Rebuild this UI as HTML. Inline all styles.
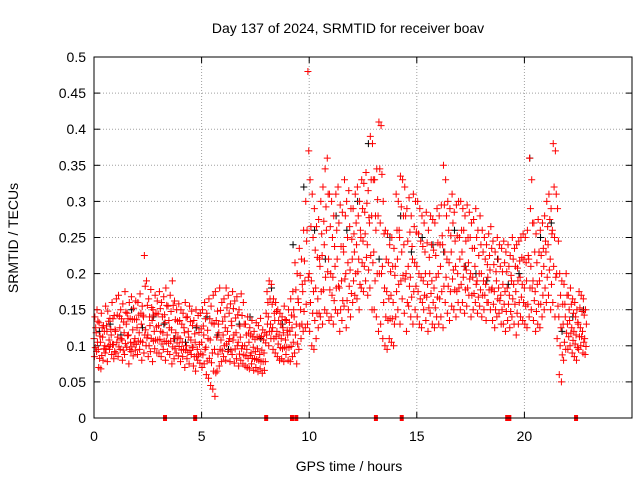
<!DOCTYPE html>
<html><head><meta charset="utf-8"><style>
body{margin:0;background:#fff;}
svg{display:block;font-family:"Liberation Sans",sans-serif;}
</style></head><body>
<svg id="chart" width="640" height="480" viewBox="0 0 640 480" xmlns="http://www.w3.org/2000/svg">
<rect width="640" height="480" fill="#fff"/>
<text x="348" y="33" font-size="14" text-anchor="middle">Day 137 of 2024, SRMTID for receiver boav</text>
<text transform="translate(18,238) rotate(-90)" font-size="14" text-anchor="middle">SRMTID / TECUs</text>
<text x="349" y="471" font-size="14" text-anchor="middle">GPS time / hours</text>
<g id="grid"></g><g id="axes"></g><g id="black"></g><g id="red"></g><g id="marks"></g>
<rect x="94" y="57" width="538" height="361" fill="none" stroke="#000" stroke-width="1"/>
</svg>
<script>
const yTicks=[0,0.05,0.1,0.15,0.2,0.25,0.3,0.35,0.4,0.45,0.5];
const yTickLabels=["0","0.05","0.1","0.15","0.2","0.25","0.3","0.35","0.4","0.45","0.5"];
const xTicks=[0,5,10,15,20];
const xTickLabels=["0","5","10","15","20"];
const redStep=0.1;
const redHi=[140,150,132,145,128,155,148,138,160,142,165,170,150,158,175,145,160,168,152,162,160,172,155,225,190,165,178,150,170,162,175,160,168,180,155,170,190,162,150,158,150,145,160,140,155,148,135,150,142,145,150,160,145,165,155,170,175,148,180,160,165,180,170,158,175,162,168,150,172,160,130,140,125,135,120,132,128,138,122,118,175,190,185,165,160,150,145,140,155,135,150,165,175,215,200,235,220,260,300,480,330,310,290,265,275,300,320,345,360,310,300,280,310,320,295,285,330,300,315,290,290,310,320,300,330,325,340,315,390,380,330,345,410,405,300,260,255,240,250,235,310,300,335,330,320,290,305,280,310,300,300,290,280,270,285,260,280,275,270,290,280,295,350,330,300,290,310,285,295,300,300,290,280,295,285,270,275,290,260,280,260,250,240,255,265,245,230,250,240,235,245,230,240,225,250,235,240,245,250,255,250,260,360,330,270,255,275,260,270,280,300,310,290,380,370,290,200,190,185,200,170,180,165,160,150,175,170,165,150];
const redMid=[110,118,95,105,112,100,120,108,115,102,120,112,125,108,118,130,115,105,122,110,125,118,130,140,122,115,128,135,120,126,128,120,118,132,115,125,122,110,118,112,110,105,118,100,112,108,98,105,95,102,105,115,98,110,108,90,95,112,118,108,115,125,120,110,128,115,118,105,112,100,100,95,105,90,98,92,96,88,94,90,145,140,130,125,135,120,115,110,118,108,115,120,125,140,130,160,150,175,190,260,200,190,175,180,165,210,225,240,260,220,200,195,210,220,180,190,230,200,215,205,220,230,240,220,250,245,255,240,270,280,230,260,280,270,210,180,175,165,170,160,210,220,250,230,240,200,210,195,220,215,210,200,195,190,200,185,200,190,180,195,200,210,240,230,220,215,230,205,210,200,220,230,210,205,215,200,195,210,190,200,200,190,185,195,205,180,175,190,180,170,185,175,180,170,190,185,175,190,195,185,180,190,220,210,190,175,185,190,200,210,230,240,220,260,250,200,140,125,130,140,130,135,125,120,115,130,125,120,110];
const redLo=[85,92,70,68,80,90,78,95,88,82,90,85,95,80,88,98,75,92,86,94,88,95,80,90,100,85,92,78,96,90,90,85,95,80,92,88,75,82,90,86,78,85,70,82,75,88,72,65,80,76,70,75,60,55,45,40,30,65,72,78,85,80,92,78,88,76,82,72,80,75,72,70,68,75,66,70,64,68,62,66,115,100,110,95,90,85,80,82,78,88,80,78,85,90,75,95,110,120,125,130,120,100,95,110,125,140,130,150,145,135,140,130,150,145,120,135,155,125,150,140,160,170,165,150,180,175,190,170,180,150,150,140,120,130,110,100,95,110,105,100,140,150,130,165,145,120,155,140,130,150,140,130,125,150,135,120,145,130,125,140,130,140,125,160,145,135,155,150,140,160,150,160,145,155,170,140,150,160,145,155,140,150,135,160,150,135,125,140,145,130,130,120,135,125,140,130,115,130,140,135,130,125,140,150,135,120,130,125,140,150,160,170,150,160,140,110,60,50,80,95,95,100,90,85,80,95,100,90,88];
const blackStep=0.5;
const blackVals=[120,130,115,150,125,140,130,110,105,125,140,115,95,130,140,110,180,130,240,320,260,220,280,260,300,380,220,250,280,230,250,240,230,260,210,200,190,220,185,200,360,250,270,120,140,150];
const markHours=[3.3,4.7,8.0,9.2,9.4,13.1,14.3,19.2,19.3,22.4];

const L=94,R=632,T=57,B=418,XMAX=25,YMAX=0.5;
const xs=v=>L+v/XMAX*(R-L), ys=v=>B-v/YMAX*(B-T);
const NS="http://www.w3.org/2000/svg";
function mk(tag,attrs,parent){const e=document.createElementNS(NS,tag);for(const k in attrs)e.setAttribute(k,attrs[k]);document.getElementById(parent).appendChild(e);return e;}
yTicks.forEach((v,i)=>{
 if(i>0&&i<yTicks.length-1){const g=mk('line',{x1:L,x2:R,y1:ys(v),y2:ys(v),stroke:'#a0a0a0','stroke-dasharray':'1,2'},'grid');
 
 }
 mk('line',{x1:L,x2:L+6,y1:ys(v),y2:ys(v),stroke:'#000'},'axes');
 mk('line',{x1:R,x2:R-6,y1:ys(v),y2:ys(v),stroke:'#000'},'axes');
 const t=mk('text',{x:L-8,y:ys(v)+5,'font-size':14,'text-anchor':'end'},'axes');t.textContent=yTickLabels[i];
 
 
});
xTicks.forEach((v,i)=>{
 if(i>0){const g=mk('line',{x1:xs(v),x2:xs(v),y1:T,y2:B,stroke:'#a0a0a0','stroke-dasharray':'1,2'},'grid');
 
 }
 mk('line',{x1:xs(v),x2:xs(v),y1:B,y2:B-6,stroke:'#000'},'axes');
 mk('line',{x1:xs(v),x2:xs(v),y1:T,y2:T+6,stroke:'#000'},'axes');
 const t=mk('text',{x:xs(v),y:B+23,'font-size':14,'text-anchor':'middle'},'axes');t.textContent=xTickLabels[i];
 
 
});
function plus(x,y,col,parent){const p=mk('path',{d:`M${x-3.5} ${y}h7M${x} ${y-3.5}v7`,stroke:col,'stroke-width':1,fill:'none'},parent);return p;}
blackVals.forEach((v,i)=>{
 const p=plus(xs(i*blackStep+0.25),ys(v/1000),'#000','black');
 
 
});
redHi.forEach((h,i)=>{
 const m=redMid[i],l=redLo[i],t=i*redStep;
 const vals=[l,(l+m)/2,m,(m+h)/2,h];
 const offs=[0.02,0.06,0.0,0.08,0.04];
 vals.forEach((v,k)=>{
  const p=plus(xs(t+offs[k]),ys(v/1000),'#ff0000','red');
  
  
 });
});
markHours.forEach(h=>{
 const r=mk('rect',{x:xs(h)-2,y:B-3,width:4,height:6,fill:'#ff0000'},'marks');
 
 
});
</script>
</body></html>
